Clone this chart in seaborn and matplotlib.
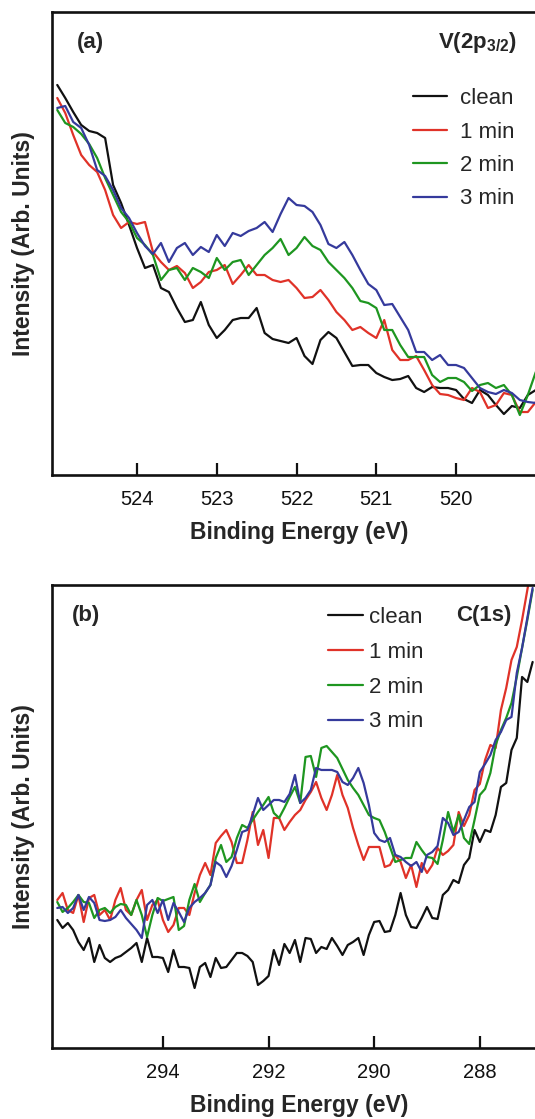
import numpy as np
import pandas as pd
import seaborn as sns
import matplotlib
matplotlib.use('Agg')
import matplotlib.pyplot as plt

# Binding energy grids (eV), 0.1 eV steps
energy_v = np.round(np.arange(525.0, 518.95, -0.1), 1)
energy_c = np.round(np.arange(296.0, 286.95, -0.1), 1)

# V(2p3/2) intensities (arb. units)
v_clean = [390, 377, 363, 350, 344, 342, 337, 290, 272, 250,
           227, 207, 210, 187, 183, 167, 153, 155, 173, 150,
           137, 145, 155, 157, 157, 167, 142, 136, 134, 132,
           137, 119, 111, 135, 143, 137, 123, 109, 110, 110,
           102, 98, 95, 96, 99, 87, 83, 88, 87, 87,
           85, 76, 72, 85, 80, 70, 61, 69, 67, 80, 85]
v_1min = [377, 362, 340, 320, 310, 303, 285, 260, 247, 253,
          251, 253, 223, 213, 205, 209, 202, 187, 193, 203,
          205, 210, 191, 200, 210, 200, 200, 195, 193, 195,
          187, 177, 178, 185, 175, 163, 155, 145, 148, 142,
          137, 155, 125, 115, 115, 119, 105, 90, 81, 80,
          77, 75, 87, 83, 67, 70, 82, 80, 63, 63, 73]
v_2min = [365, 352, 348, 341, 331, 317, 297, 280, 263, 253,
          237, 230, 220, 195, 205, 207, 195, 207, 203, 197,
          217, 205, 213, 215, 200, 210, 220, 227, 236, 220,
          227, 238, 229, 225, 213, 205, 197, 187, 174, 172,
          167, 145, 145, 130, 118, 118, 118, 100, 93, 97,
          97, 93, 84, 90, 92, 87, 90, 80, 60, 80, 103]
v_3min = [367, 369, 353, 347, 330, 305, 299, 285, 267, 257,
          242, 229, 221, 232, 213, 227, 232, 220, 228, 223,
          240, 229, 242, 239, 244, 247, 253, 243, 261, 277,
          270, 269, 263, 250, 231, 227, 233, 220, 205, 191,
          185, 170, 171, 158, 145, 123, 123, 115, 120, 110,
          110, 107, 97, 87, 83, 81, 85, 82, 75, 73, 72]

# C(1s) intensities (arb. units)
c_clean = [128, 120, 125, 118, 106, 98, 110, 86, 103, 90,
           86, 90, 92, 96, 100, 105, 86, 110, 91, 91,
           90, 76, 98, 81, 81, 80, 60, 81, 85, 71,
           90, 80, 81, 88, 95, 95, 92, 86, 63, 67,
           72, 98, 83, 104, 95, 108, 86, 110, 109, 95,
           101, 99, 110, 102, 93, 103, 106, 110, 93, 113,
           126, 127, 116, 117, 133, 155, 133, 121, 120, 130,
           141, 130, 129, 153, 158, 168, 165, 183, 190, 218,
           206, 218, 216, 233, 261, 265, 298, 310, 371, 366, 386]
c_1min = [148, 155, 138, 135, 153, 126, 150, 153, 133, 138,
          128, 148, 160, 138, 133, 148, 158, 128, 143, 148,
          128, 116, 123, 140, 140, 133, 155, 173, 185, 173,
          205, 212, 218, 206, 185, 185, 208, 236, 203, 218,
          190, 230, 230, 218, 226, 233, 238, 248, 256, 266,
          250, 238, 253, 273, 253, 240, 220, 203, 188, 201,
          201, 201, 181, 183, 193, 186, 170, 183, 161, 185,
          175, 183, 200, 193, 197, 203, 236, 222, 233, 258,
          264, 288, 303, 300, 338, 360, 388, 401, 428, 458, 488]
c_2min = [146, 136, 140, 146, 153, 146, 145, 130, 138, 140,
          135, 141, 144, 143, 133, 148, 133, 111, 133, 150,
          147, 149, 151, 118, 122, 148, 164, 146, 155, 163,
          190, 203, 186, 191, 210, 223, 220, 228, 236, 243,
          251, 235, 230, 240, 251, 261, 245, 291, 292, 271,
          300, 302, 296, 290, 279, 268, 260, 253, 243, 233,
          230, 228, 216, 201, 186, 188, 190, 190, 206, 198,
          191, 190, 184, 208, 236, 216, 233, 210, 204, 228,
          253, 259, 275, 303, 318, 330, 345, 371, 400, 428, 458]
c_3min = [140, 141, 135, 140, 153, 138, 151, 145, 128, 127,
          128, 131, 138, 130, 124, 118, 110, 143, 148, 135,
          148, 128, 145, 136, 126, 140, 146, 150, 155, 163,
          186, 182, 171, 182, 198, 216, 218, 233, 250, 238,
          243, 248, 248, 246, 254, 273, 245, 250, 258, 280,
          278, 278, 278, 276, 266, 263, 270, 280, 265, 243,
          215, 208, 206, 210, 193, 191, 186, 182, 186, 176,
          193, 196, 202, 230, 225, 213, 216, 228, 241, 246,
          276, 284, 293, 308, 316, 328, 331, 375, 400, 430, 460]

samples = ['clean', '1 min', '2 min', '3 min']
colors = ['#111111', '#e03228', '#1e9620', '#353a9c']
ticks_v = [524, 523, 522, 521, 520]
ticks_c = [294, 292, 290, 288]

sns.set_theme(style='ticks')
plt.rcParams['font.family'] = ['Liberation Sans', 'DejaVu Sans']
plt.rcParams['mathtext.fontset'] = 'custom'
plt.rcParams['mathtext.rm'] = 'Liberation Sans'
plt.rcParams['mathtext.bf'] = 'Liberation Sans:bold'

fig = plt.figure(figsize=(5.35, 11.19), dpi=100)
ax_a = fig.add_axes([0.0972, 0.5755, 0.9028, 0.4138])
ax_b = fig.add_axes([0.0972, 0.06345, 0.9028, 0.4138])


def draw_panel(ax, energy, curves, xlim, ticks):
    df = pd.DataFrame({
        'energy': np.tile(energy, len(curves)),
        'intensity': np.concatenate([np.asarray(c, dtype=float) for c in curves]),
        'sample': np.repeat(samples, len(energy)),
    })
    sns.lineplot(data=df, x='energy', y='intensity', hue='sample',
                 hue_order=samples, palette=colors, linewidth=1.6,
                 estimator=None, sort=False, ax=ax)
    ax.set_xlim(*xlim)
    ax.set_ylim(0, 463)
    ax.set_xticks(ticks)
    ax.set_xticklabels([str(t) for t in ticks])
    ax.tick_params(axis='x', direction='in', length=9, width=1.6, pad=11,
                   labelsize=14.5, top=False, colors='#111111')
    ax.tick_params(axis='y', left=False, labelleft=False)
    ax.spines['right'].set_visible(False)
    for s in ['left', 'top', 'bottom']:
        ax.spines[s].set_linewidth(1.9)
        ax.spines[s].set_color('#111111')
    ax.set_xlabel('Binding Energy (eV)', fontsize=16.5, fontweight='bold')
    ax.xaxis.set_label_coords(0.512, -0.124)
    ax.xaxis.label.set_va('center')
    ax.set_ylabel('Intensity (Arb. Units)', fontsize=16.5, fontweight='bold')
    ax.yaxis.set_label_coords(-0.060, 0.5)
    ax.yaxis.label.set_va('center')


draw_panel(ax_a, energy_v, [v_clean, v_1min, v_2min, v_3min],
           (525.066, 519.01), ticks_v)
draw_panel(ax_b, energy_c, [c_clean, c_1min, c_2min, c_3min],
           (296.10, 286.955), ticks_c)

# Legends
h, l = ax_a.get_legend_handles_labels()
ax_a.legend(h, l, loc='upper left', bbox_to_anchor=(0.772, 0.9213),
            bbox_transform=fig.transFigure, frameon=False, fontsize=16,
            handlelength=1.53, handletextpad=0.6, labelspacing=0.56,
            borderpad=0, borderaxespad=0)
h, l = ax_b.get_legend_handles_labels()
ax_b.legend(h, l, loc='upper left', bbox_to_anchor=(0.613, 0.4575),
            bbox_transform=fig.transFigure, frameon=False, fontsize=16,
            handlelength=1.58, handletextpad=0.25, labelspacing=0.62,
            borderpad=0, borderaxespad=0)

# Panel labels
fig.text(0.1439, 0.9616, '(a)', fontsize=16, fontweight='bold', va='center')
fig.text(0.9664, 0.9616, r'V(2p$_\mathbf{3/2}$)', fontsize=16,
         fontweight='bold', va='center', ha='right')
fig.text(0.1346, 0.4504, '(b)', fontsize=16, fontweight='bold', va='center')
fig.text(0.957, 0.4504, 'C(1s)', fontsize=16, fontweight='bold',
         va='center', ha='right')

fig.savefig('out.png', dpi=100)
